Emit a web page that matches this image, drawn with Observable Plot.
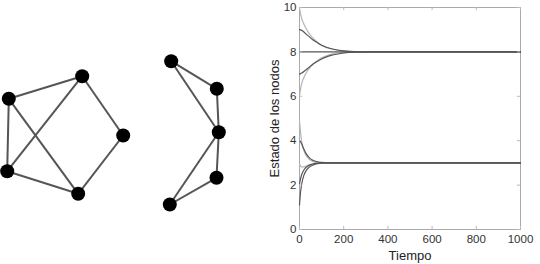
<!DOCTYPE html>
<html><head><meta charset="utf-8">
<script src="https://cdn.jsdelivr.net/npm/d3@7"></script>
<script src="https://cdn.jsdelivr.net/npm/@observablehq/plot@0.6"></script>
<style>
body{margin:0;background:#fff}
#wrap{position:relative;width:540px;height:264px;overflow:hidden}
#wrap svg{position:absolute;top:0;left:0}
</style></head><body><div id="wrap"></div>
<script>
// ---- network layout (layout units) ----
const nodeIds = ["A","B","C","D","E","F","G","H","I","J"];
const nodeX   = [8.3, 81.7, 122.7, 6.7, 77.7, 170.7, 216.3, 218.3, 216, 169.3];
const nodeY   = [98.3, 75.7, 135, 170.7, 193.3, 60.7, 88.3, 131.7, 177.3, 204];
const edgeFrom = ["A","A","A","B","B","C","D","F","F","G","H","H","I"];
const edgeTo   = ["B","D","E","D","C","E","E","G","H","H","I","J","J"];

// ---- time series ----
const times = [0, 5, 10, 20, 30, 40, 50, 60, 80, 100, 125, 150, 200, 250, 300, 1000];
const s10 = [10, 9.7, 9.5, 9.25, 9.05, 8.88, 8.75, 8.63, 8.45, 8.3, 8.19, 8.12, 8.04, 8.01, 8, 8];
const s9  = [9, 8.99, 8.97, 8.9, 8.8, 8.72, 8.63, 8.55, 8.42, 8.3, 8.2, 8.13, 8.05, 8.01, 8, 8];
const s8  = [8, 8, 8, 8, 8, 8, 8, 8, 8, 8, 8, 8, 8, 8, 8, 8];
const s7  = [7, 7.02, 7.05, 7.12, 7.2, 7.28, 7.36, 7.44, 7.57, 7.68, 7.79, 7.86, 7.95, 7.99, 8, 8];
const s6  = [6, 6.35, 6.58, 6.85, 7.05, 7.2, 7.33, 7.43, 7.6, 7.73, 7.84, 7.91, 7.97, 8, 8, 8];
const s5  = [4.9, 4.35, 3.95, 3.55, 3.33, 3.2, 3.12, 3.07, 3.02, 3, 3, 3, 3, 3, 3, 3];
const s4  = [4, 3.95, 3.85, 3.62, 3.42, 3.28, 3.18, 3.12, 3.05, 3.02, 3, 3, 3, 3, 3, 3];
const s3  = [2.95, 2.85, 2.82, 2.82, 2.86, 2.9, 2.93, 2.96, 2.99, 3, 3, 3, 3, 3, 3, 3];
const s2  = [2.05, 2.3, 2.48, 2.68, 2.8, 2.87, 2.92, 2.95, 2.98, 3, 3, 3, 3, 3, 3, 3];
const s1  = [1.1, 1.7, 2.05, 2.45, 2.65, 2.77, 2.85, 2.9, 2.96, 2.99, 3, 3, 3, 3, 3, 3];
const seriesNames = ["n10","n9","n8","n7","n6","n5","n4","n3","n2","n1"];
const seriesVals  = [s10, s9, s8, s7, s6, s5, s4, s3, s2, s1];
const seriesTone  = ["light","dark","dark","dark","light","light","dark","light","dark","dark"];

const xTicks = [0, 200, 400, 600, 800, 1000];
const yTicks = [0, 2, 4, 6, 8, 10];
const xLabel = "Tiempo";
const yLabel = "Estado de los nodos";

// ---- build tables ----
const nodes = nodeIds.map((id, i) => ({id, x: nodeX[i], y: nodeY[i]}));
const byId = new Map(nodes.map(n => [n.id, n]));
const edges = edgeFrom.map((f, i) => ({a: byId.get(f), b: byId.get(edgeTo[i])}));
const rows = [];
seriesNames.forEach((name, k) => times.forEach((t, i) => rows.push({name, tone: seriesTone[k], t, v: seriesVals[k][i]})));

const font = "'Liberation Sans', Arial, sans-serif";
const wrap = document.getElementById("wrap");

const chart = Plot.plot({
  width: 540, height: 264,
  marginLeft: 299, marginRight: 20, marginTop: 7, marginBottom: 35,
  style: {fontFamily: font, fontSize: "11.5px", background: "none", color: "#333"},
  x: {domain: [0, 1000]},
  y: {domain: [0, 10]},
  marks: [
    Plot.frame({stroke: "#aaa"}),
    Plot.line(rows.filter(d => d.tone === "light"), {x: "t", y: "v", z: "name", stroke: "#b5b5b5", strokeWidth: 1.2, curve: "monotone-x"}),
    Plot.line(rows.filter(d => d.tone === "dark"), {x: "t", y: "v", z: "name", stroke: "#555", strokeWidth: 1.2, curve: "monotone-x"}),
    Plot.ruleX(xTicks, {y1: 0, y2: 0.14, stroke: "#bbb"}),
    Plot.ruleX(xTicks, {y1: 10, y2: 9.86, stroke: "#bbb"}),
    Plot.ruleY(yTicks, {x1: 0, x2: 14, stroke: "#bbb"}),
    Plot.ruleY(yTicks, {x1: 1000, x2: 986, stroke: "#bbb"}),
    Plot.axisX({ticks: xTicks, tickSize: 0, tickPadding: 5, tickFormat: d => String(d), label: null}),
    Plot.axisY({ticks: yTicks, tickSize: 0, tickPadding: 3, tickFormat: d => String(d), label: null}),
    Plot.text([xLabel], {frameAnchor: "bottom", lineAnchor: "bottom", dy: 30, fontSize: 13, fill: "#222"}),
    Plot.text([yLabel], {frameAnchor: "left", textAnchor: "middle", lineAnchor: "middle", rotate: -90, dx: -25, fontSize: 13, fill: "#222"})
  ]
});
wrap.appendChild(chart);

const net = Plot.plot({
  width: 260, height: 264, margin: 0,
  style: {background: "none"},
  x: {domain: [0, 260], axis: null},
  y: {domain: [0, 264], reverse: true, axis: null},
  marks: [
    Plot.link(edges, {x1: d => d.a.x, y1: d => d.a.y, x2: d => d.b.x, y2: d => d.b.y, stroke: "#555", strokeWidth: 2}),
    Plot.dot(nodes, {x: "x", y: "y", r: 7, fill: "#000", stroke: "none"})
  ]
});
wrap.appendChild(net);
</script>
</body></html>
